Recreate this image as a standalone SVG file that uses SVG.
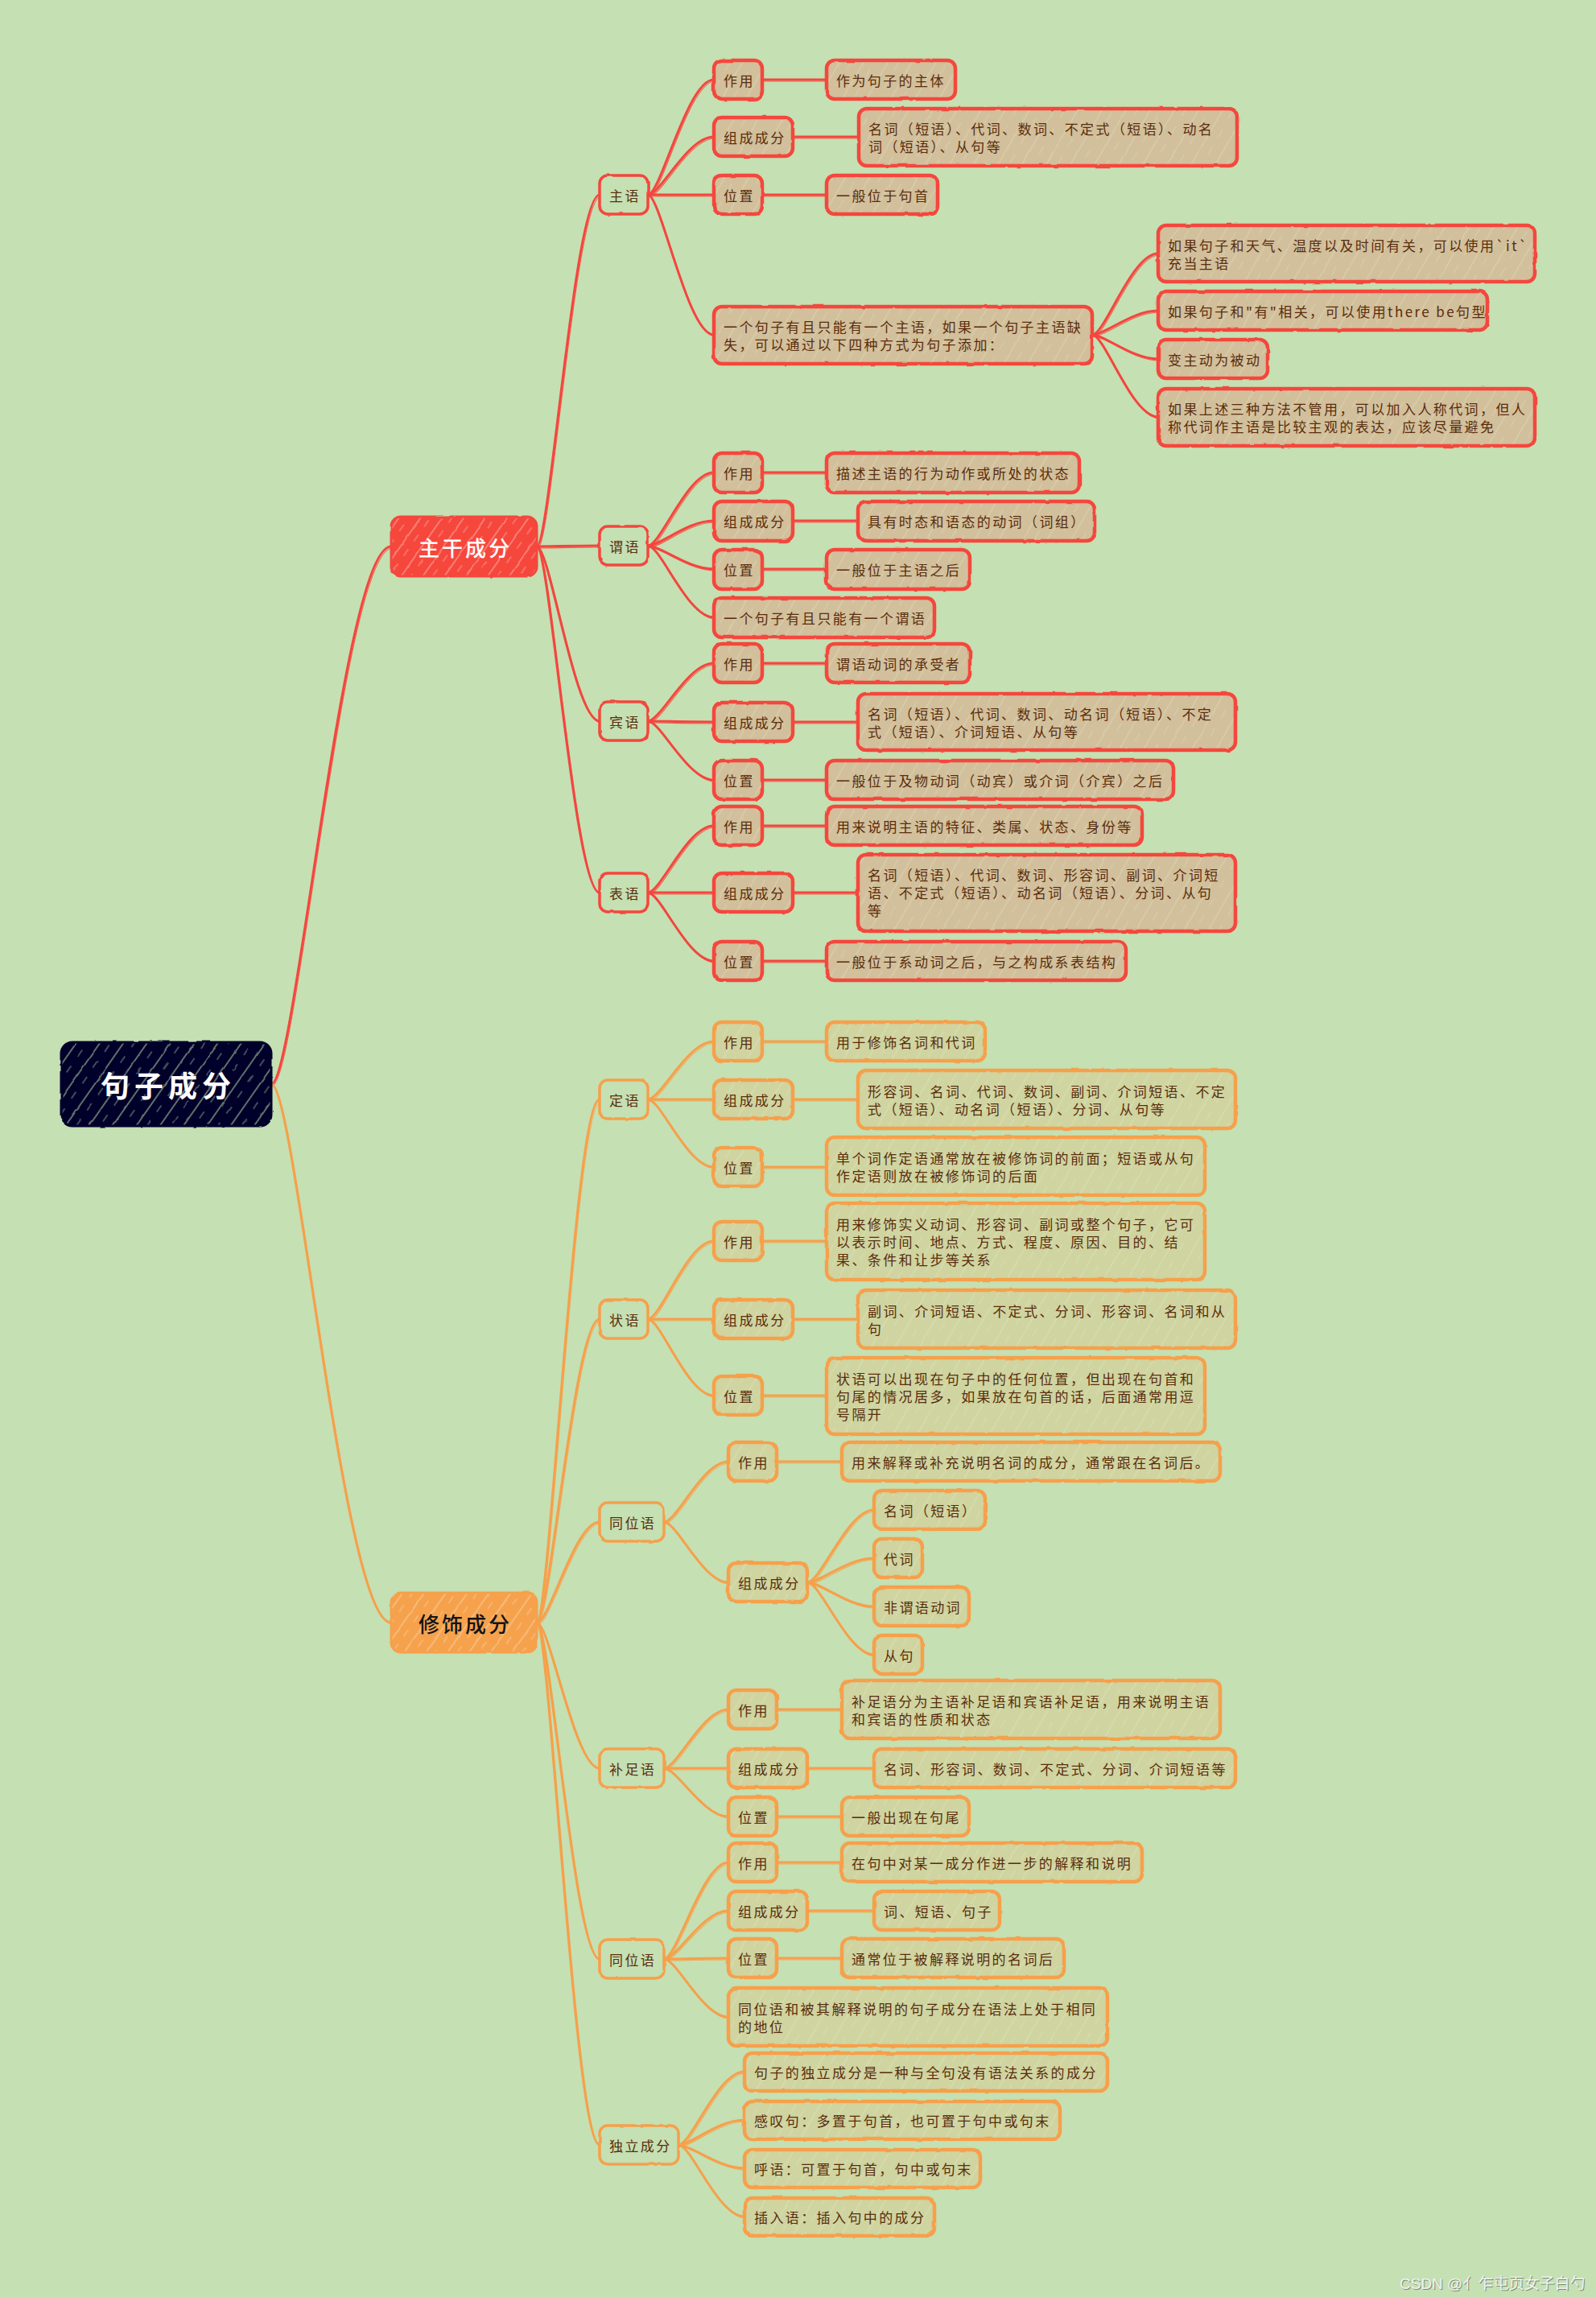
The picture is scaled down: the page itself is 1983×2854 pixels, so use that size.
<svg xmlns="http://www.w3.org/2000/svg" xmlns:xlink="http://www.w3.org/1999/xlink" width="1983" height="2854" viewBox="0 0 1983 2854">
<defs>
<style>
.t{font-family:"Noto Sans CJK SC","Noto Sans",sans-serif;font-size:17px;letter-spacing:2.4px;fill:#5a2d0c;dominant-baseline:central}
.b2r{fill:#c5e0b3;stroke:#f4463e;stroke-width:3.5;filter:url(#rough)}
.b3r{fill:url(#hTan);stroke:#f4463e;stroke-width:4.5;filter:url(#rough)}
.b2o{fill:#c5e0b3;stroke:#f6a04b;stroke-width:3.5;filter:url(#rough)}
.b3o{fill:url(#hYel);stroke:#f6a04b;stroke-width:4.5;filter:url(#rough)}
.main{font-family:"Noto Sans CJK SC","Noto Sans",sans-serif;font-size:26px;letter-spacing:3px;dominant-baseline:central;text-anchor:middle;font-weight:500}
.wm{font-family:"Liberation Sans","Noto Sans CJK SC",sans-serif;font-size:19px}
</style>
<filter id="rough" x="-20%" y="-30%" width="140%" height="160%">
<feTurbulence type="fractalNoise" baseFrequency="0.06" numOctaves="2" seed="4"/>
<feDisplacementMap in="SourceGraphic" scale="2.5" xChannelSelector="R" yChannelSelector="G"/>
</filter>
<pattern id="hTan" width="26" height="26" patternUnits="userSpaceOnUse" patternTransform="rotate(30)">
<rect width="26" height="26" fill="#d2bf9b"/>
<line x1="6" y1="0" x2="6" y2="26" stroke="#e3e6c8" stroke-width="1" opacity="0.55"/>
<line x1="18" y1="3" x2="18" y2="15" stroke="#e3e6c8" stroke-width="1" opacity="0.45"/>
</pattern>
<pattern id="hYel" width="26" height="26" patternUnits="userSpaceOnUse" patternTransform="rotate(30)">
<rect width="26" height="26" fill="#cfd4a0"/>
<line x1="6" y1="0" x2="6" y2="26" stroke="#e2ecc8" stroke-width="1" opacity="0.55"/>
<line x1="18" y1="3" x2="18" y2="15" stroke="#e2ecc8" stroke-width="1" opacity="0.45"/>
</pattern>
<pattern id="hRed" width="22" height="22" patternUnits="userSpaceOnUse" patternTransform="rotate(35)">
<rect width="22" height="22" fill="#f6463d"/>
<line x1="5" y1="0" x2="5" y2="22" stroke="#fbb9ad" stroke-width="1.2" opacity="0.8"/>
<line x1="15" y1="4" x2="15" y2="14" stroke="#fbb9ad" stroke-width="1.2" opacity="0.6"/>
</pattern>
<pattern id="hOrg" width="22" height="22" patternUnits="userSpaceOnUse" patternTransform="rotate(35)">
<rect width="22" height="22" fill="#f6a24e"/>
<line x1="5" y1="0" x2="5" y2="22" stroke="#f9d3a5" stroke-width="1.2" opacity="0.8"/>
<line x1="15" y1="4" x2="15" y2="14" stroke="#f9d3a5" stroke-width="1.2" opacity="0.6"/>
</pattern>
<pattern id="hNavy" width="24" height="24" patternUnits="userSpaceOnUse" patternTransform="rotate(35)">
<rect width="24" height="24" fill="#00002a"/>
<line x1="5" y1="0" x2="5" y2="24" stroke="#b8d8a4" stroke-width="1.3" opacity="0.8"/>
<line x1="16" y1="2" x2="16" y2="12" stroke="#b8d8a4" stroke-width="1.2" opacity="0.6"/>
</pattern>
</defs>

<rect width="1983" height="2854" fill="#c5e0b3"/>

<g id="connectors" fill="none" stroke-linecap="round">
<g stroke="#f4463e" stroke-width="3">
<g id="conn-red">
<path d="M337 1347 C367 1347 426 679 486 679"/>
<path d="M667 679 C683 679 714 242 745 242"/>
<path d="M667 679 C683 679 714 678 745 678"/>
<path d="M667 679 C683 679 714 896 745 896"/>
<path d="M667 679 C683 679 714 1109 745 1109"/>
<path d="M805 242 C821 242 854 99 887 99"/>
<path d="M805 242 C821 242 854 170 887 170"/>
<path d="M805 242 C821 242 854 242 887 242"/>
<path d="M805 242 C821 242 854 416 887 416"/>
<path d="M1357 416 C1373 416 1406 315 1439 315"/>
<path d="M1357 416 C1373 416 1406 386 1439 386"/>
<path d="M1357 416 C1373 416 1406 446 1439 446"/>
<path d="M1357 416 C1373 416 1406 518 1439 518"/>
<path d="M805 678 C821 678 854 587 887 587"/>
<path d="M805 678 C821 678 854 647 887 647"/>
<path d="M805 678 C821 678 854 707 887 707"/>
<path d="M805 678 C821 678 854 767 887 767"/>
<path d="M805 896 C821 896 854 824 887 824"/>
<path d="M805 896 C821 896 854 897 887 897"/>
<path d="M805 896 C821 896 854 969 887 969"/>
<path d="M805 1109 C821 1109 854 1026 887 1026"/>
<path d="M805 1109 C821 1109 854 1109 887 1109"/>
<path d="M805 1109 C821 1109 854 1194 887 1194"/>
<path d="M947 99 L1027 99"/>
<path d="M985 170 L1067 170"/>
<path d="M947 242 L1027 242"/>
<path d="M947 587 L1027 587"/>
<path d="M985 647 L1066 647"/>
<path d="M947 707 L1027 707"/>
<path d="M947 824 L1027 824"/>
<path d="M985 897 L1066 897"/>
<path d="M947 969 L1027 969"/>
<path d="M947 1026 L1027 1026"/>
<path d="M985 1109 L1066 1109"/>
<path d="M947 1194 L1027 1194"/>
</g>
</g>
<use href="#conn-red" transform="translate(1.5,2)" stroke="#f4463e" stroke-width="1.2" opacity="0.8"/>
<g stroke="#f6a04b" stroke-width="3">
<g id="conn-org">
<path d="M337 1347 C367 1347 426 2016 486 2016"/>
<path d="M667 2016 C683 2016 714 1366 745 1366"/>
<path d="M667 2016 C683 2016 714 1639 745 1639"/>
<path d="M667 2016 C683 2016 714 1891 745 1891"/>
<path d="M667 2016 C683 2016 714 2197 745 2197"/>
<path d="M667 2016 C683 2016 714 2434 745 2434"/>
<path d="M667 2016 C683 2016 714 2665 745 2665"/>
<path d="M805 1366 C821 1366 854 1294 887 1294"/>
<path d="M805 1366 C821 1366 854 1366 887 1366"/>
<path d="M805 1366 C821 1366 854 1450 887 1450"/>
<path d="M805 1639 C821 1639 854 1542 887 1542"/>
<path d="M805 1639 C821 1639 854 1639 887 1639"/>
<path d="M805 1639 C821 1639 854 1734 887 1734"/>
<path d="M825 1891 C841 1891 873 1816 905 1816"/>
<path d="M825 1891 C841 1891 873 1966 905 1966"/>
<path d="M1003 1966 C1020 1966 1053 1876 1086 1876"/>
<path d="M1003 1966 C1020 1966 1053 1936 1086 1936"/>
<path d="M1003 1966 C1020 1966 1053 1996 1086 1996"/>
<path d="M1003 1966 C1020 1966 1053 2056 1086 2056"/>
<path d="M825 2197 C841 2197 873 2124 905 2124"/>
<path d="M825 2197 C841 2197 873 2197 905 2197"/>
<path d="M825 2197 C841 2197 873 2257 905 2257"/>
<path d="M825 2434 C841 2434 873 2314 905 2314"/>
<path d="M825 2434 C841 2434 873 2374 905 2374"/>
<path d="M825 2434 C841 2434 873 2433 905 2433"/>
<path d="M825 2434 C841 2434 873 2506 905 2506"/>
<path d="M843 2665 C859 2665 892 2574 925 2574"/>
<path d="M843 2665 C859 2665 892 2634 925 2634"/>
<path d="M843 2665 C859 2665 892 2694 925 2694"/>
<path d="M843 2665 C859 2665 892 2754 925 2754"/>
<path d="M947 1294 L1027 1294"/>
<path d="M985 1366 L1066 1366"/>
<path d="M947 1450 L1027 1450"/>
<path d="M947 1542 L1027 1542"/>
<path d="M985 1639 L1066 1639"/>
<path d="M947 1734 L1027 1734"/>
<path d="M965 1816 L1046 1816"/>
<path d="M965 2124 L1046 2124"/>
<path d="M1003 2197 L1086 2197"/>
<path d="M965 2257 L1046 2257"/>
<path d="M965 2314 L1046 2314"/>
<path d="M1003 2374 L1086 2374"/>
<path d="M965 2433 L1046 2433"/>
</g>
</g>
<use href="#conn-org" transform="translate(1.5,2)" stroke="#f6a04b" stroke-width="1.2" opacity="0.8"/>
</g>

<g id="root">
<rect x="76" y="1295" width="261" height="104" rx="14" fill="url(#hNavy)" stroke="#00002a" stroke-width="3" filter="url(#rough)"/>
<text x="209" y="1347" style="font-family:'Noto Sans CJK SC',sans-serif;font-size:36px;font-weight:700;letter-spacing:6px;fill:#ffffff;text-anchor:middle;dominant-baseline:central">句子成分</text>
</g>

<g id="n-zhugan">
<rect x="486" y="642" width="181" height="74" rx="12" fill="url(#hRed)" stroke="#f4463e" stroke-width="3" filter="url(#rough)"/>
<text class="main" x="578" y="679" fill="#ffffff">主干成分</text>
</g>
<g id="n-xiushi">
<rect x="486" y="1979" width="181" height="74" rx="12" fill="url(#hOrg)" stroke="#f6a04b" stroke-width="3" filter="url(#rough)"/>
<text class="main" x="578" y="2016" fill="#141414">修饰成分</text>
</g>

<!-- red level 2 -->
<g id="n-zhuyu"><rect class="b2r" x="745" y="218" width="60" height="48" rx="10"/><text class="t" x="757" y="242">主语</text></g>
<g id="n-weiyu"><rect class="b2r" x="745" y="654" width="60" height="48" rx="10"/><text class="t" x="757" y="678">谓语</text></g>
<g id="n-binyu"><rect class="b2r" x="745" y="872" width="60" height="48" rx="10"/><text class="t" x="757" y="896">宾语</text></g>
<g id="n-biaoyu"><rect class="b2r" x="745" y="1085" width="60" height="48" rx="10"/><text class="t" x="757" y="1109">表语</text></g>

<!-- 主语 children -->
<g id="n-zy-zuoyong"><rect class="b3r" x="887" y="75" width="60" height="48" rx="10"/><text class="t" x="899" y="99">作用</text></g>
<g id="n-zy-zuoyong-d"><rect class="b3r" x="1027" y="75" width="160" height="48" rx="10"/><text class="t" x="1039" y="99">作为句子的主体</text></g>
<g id="n-zy-zucheng"><rect class="b3r" x="887" y="146" width="98" height="48" rx="10"/><text class="t" x="899" y="170">组成成分</text></g>
<g id="n-zy-zucheng-d"><rect class="b3r" x="1067" y="135" width="470" height="71" rx="10"/><text class="t"><tspan x="1079" y="159">名词（短语）、代词、数词、不定式（短语）、动名</tspan><tspan x="1079" y="181">词（短语）、从句等</tspan></text></g>
<g id="n-zy-weizhi"><rect class="b3r" x="887" y="218" width="60" height="48" rx="10"/><text class="t" x="899" y="242">位置</text></g>
<g id="n-zy-weizhi-d"><rect class="b3r" x="1027" y="218" width="138" height="48" rx="10"/><text class="t" x="1039" y="242">一般位于句首</text></g>
<g id="n-zy-rule"><rect class="b3r" x="887" y="381" width="470" height="71" rx="10"/><text class="t"><tspan x="899" y="405">一个句子有且只能有一个主语，如果一个句子主语缺</tspan><tspan x="899" y="427">失，可以通过以下四种方式为句子添加：</tspan></text></g>
<g id="n-zy-r1"><rect class="b3r" x="1439" y="280" width="468" height="70" rx="10"/><text class="t"><tspan x="1451" y="304">如果句子和天气、温度以及时间有关，可以使用`it`</tspan><tspan x="1451" y="326">充当主语</tspan></text></g>
<g id="n-zy-r2"><rect class="b3r" x="1439" y="362" width="409" height="48" rx="10"/><text class="t" x="1451" y="386">如果句子和"有"相关，可以使用there be句型</text></g>
<g id="n-zy-r3"><rect class="b3r" x="1439" y="422" width="136" height="48" rx="10"/><text class="t" x="1451" y="446">变主动为被动</text></g>
<g id="n-zy-r4"><rect class="b3r" x="1439" y="483" width="468" height="71" rx="10"/><text class="t"><tspan x="1451" y="507">如果上述三种方法不管用，可以加入人称代词，但人</tspan><tspan x="1451" y="529">称代词作主语是比较主观的表达，应该尽量避免</tspan></text></g>

<!-- 谓语 children -->
<g id="n-wy-zuoyong"><rect class="b3r" x="887" y="563" width="60" height="49" rx="10"/><text class="t" x="899" y="587">作用</text></g>
<g id="n-wy-zuoyong-d"><rect class="b3r" x="1027" y="563" width="314" height="49" rx="10"/><text class="t" x="1039" y="587">描述主语的行为动作或所处的状态</text></g>
<g id="n-wy-zucheng"><rect class="b3r" x="887" y="623" width="98" height="49" rx="10"/><text class="t" x="899" y="647">组成成分</text></g>
<g id="n-wy-zucheng-d"><rect class="b3r" x="1066" y="623" width="294" height="49" rx="10"/><text class="t" x="1078" y="647">具有时态和语态的动词（词组）</text></g>
<g id="n-wy-weizhi"><rect class="b3r" x="887" y="683" width="60" height="49" rx="10"/><text class="t" x="899" y="707">位置</text></g>
<g id="n-wy-weizhi-d"><rect class="b3r" x="1027" y="683" width="178" height="49" rx="10"/><text class="t" x="1039" y="707">一般位于主语之后</text></g>
<g id="n-wy-rule"><rect class="b3r" x="887" y="743" width="274" height="49" rx="10"/><text class="t" x="899" y="767">一个句子有且只能有一个谓语</text></g>

<!-- 宾语 children -->
<g id="n-by-zuoyong"><rect class="b3r" x="887" y="800" width="60" height="48" rx="10"/><text class="t" x="899" y="824">作用</text></g>
<g id="n-by-zuoyong-d"><rect class="b3r" x="1027" y="800" width="178" height="48" rx="10"/><text class="t" x="1039" y="824">谓语动词的承受者</text></g>
<g id="n-by-zucheng"><rect class="b3r" x="887" y="873" width="98" height="48" rx="10"/><text class="t" x="899" y="897">组成成分</text></g>
<g id="n-by-zucheng-d"><rect class="b3r" x="1066" y="862" width="469" height="70" rx="10"/><text class="t"><tspan x="1078" y="886">名词（短语）、代词、数词、动名词（短语）、不定</tspan><tspan x="1078" y="908">式（短语）、介词短语、从句等</tspan></text></g>
<g id="n-by-weizhi"><rect class="b3r" x="887" y="945" width="60" height="48" rx="10"/><text class="t" x="899" y="969">位置</text></g>
<g id="n-by-weizhi-d"><rect class="b3r" x="1027" y="945" width="431" height="48" rx="10"/><text class="t" x="1039" y="969">一般位于及物动词（动宾）或介词（介宾）之后</text></g>

<!-- 表语 children -->
<g id="n-bi-zuoyong"><rect class="b3r" x="887" y="1002" width="60" height="48" rx="10"/><text class="t" x="899" y="1026">作用</text></g>
<g id="n-bi-zuoyong-d"><rect class="b3r" x="1027" y="1002" width="392" height="48" rx="10"/><text class="t" x="1039" y="1026">用来说明主语的特征、类属、状态、身份等</text></g>
<g id="n-bi-zucheng"><rect class="b3r" x="887" y="1085" width="98" height="48" rx="10"/><text class="t" x="899" y="1109">组成成分</text></g>
<g id="n-bi-zucheng-d"><rect class="b3r" x="1066" y="1062" width="469" height="95" rx="10"/><text class="t"><tspan x="1078" y="1086">名词（短语）、代词、数词、形容词、副词、介词短</tspan><tspan x="1078" y="1108">语、不定式（短语）、动名词（短语）、分词、从句</tspan><tspan x="1078" y="1130">等</tspan></text></g>
<g id="n-bi-weizhi"><rect class="b3r" x="887" y="1170" width="60" height="48" rx="10"/><text class="t" x="899" y="1194">位置</text></g>
<g id="n-bi-weizhi-d"><rect class="b3r" x="1027" y="1170" width="372" height="48" rx="10"/><text class="t" x="1039" y="1194">一般位于系动词之后，与之构成系表结构</text></g>

<!-- orange level 2 -->
<g id="n-dingyu"><rect class="b2o" x="745" y="1342" width="60" height="48" rx="10"/><text class="t" x="757" y="1366">定语</text></g>
<g id="n-zhuangyu"><rect class="b2o" x="745" y="1615" width="60" height="48" rx="10"/><text class="t" x="757" y="1639">状语</text></g>
<g id="n-tongweiyu1"><rect class="b2o" x="745" y="1867" width="80" height="48" rx="10"/><text class="t" x="757" y="1891">同位语</text></g>
<g id="n-buzuyu"><rect class="b2o" x="745" y="2173" width="80" height="48" rx="10"/><text class="t" x="757" y="2197">补足语</text></g>
<g id="n-tongweiyu2"><rect class="b2o" x="745" y="2410" width="80" height="48" rx="10"/><text class="t" x="757" y="2434">同位语</text></g>
<g id="n-duli"><rect class="b2o" x="745" y="2641" width="98" height="48" rx="10"/><text class="t" x="757" y="2665">独立成分</text></g>

<!-- 定语 children -->
<g id="n-dy-zuoyong"><rect class="b3o" x="887" y="1270" width="60" height="48" rx="10"/><text class="t" x="899" y="1294">作用</text></g>
<g id="n-dy-zuoyong-d"><rect class="b3o" x="1027" y="1270" width="197" height="48" rx="10"/><text class="t" x="1039" y="1294">用于修饰名词和代词</text></g>
<g id="n-dy-zucheng"><rect class="b3o" x="887" y="1342" width="98" height="48" rx="10"/><text class="t" x="899" y="1366">组成成分</text></g>
<g id="n-dy-zucheng-d"><rect class="b3o" x="1066" y="1330" width="469" height="72" rx="10"/><text class="t"><tspan x="1078" y="1355">形容词、名词、代词、数词、副词、介词短语、不定</tspan><tspan x="1078" y="1377">式（短语）、动名词（短语）、分词、从句等</tspan></text></g>
<g id="n-dy-weizhi"><rect class="b3o" x="887" y="1426" width="60" height="48" rx="10"/><text class="t" x="899" y="1450">位置</text></g>
<g id="n-dy-weizhi-d"><rect class="b3o" x="1027" y="1413" width="470" height="72" rx="10"/><text class="t"><tspan x="1039" y="1438">单个词作定语通常放在被修饰词的前面；短语或从句</tspan><tspan x="1039" y="1460">作定语则放在被修饰词的后面</tspan></text></g>

<!-- 状语 children -->
<g id="n-zhy-zuoyong"><rect class="b3o" x="887" y="1518" width="60" height="48" rx="10"/><text class="t" x="899" y="1542">作用</text></g>
<g id="n-zhy-zuoyong-d"><rect class="b3o" x="1027" y="1495" width="470" height="95" rx="10"/><text class="t"><tspan x="1039" y="1520">用来修饰实义动词、形容词、副词或整个句子，它可</tspan><tspan x="1039" y="1542">以表示时间、地点、方式、程度、原因、目的、结</tspan><tspan x="1039" y="1564">果、条件和让步等关系</tspan></text></g>
<g id="n-zhy-zucheng"><rect class="b3o" x="887" y="1615" width="98" height="48" rx="10"/><text class="t" x="899" y="1639">组成成分</text></g>
<g id="n-zhy-zucheng-d"><rect class="b3o" x="1066" y="1603" width="469" height="72" rx="10"/><text class="t"><tspan x="1078" y="1628">副词、介词短语、不定式、分词、形容词、名词和从</tspan><tspan x="1078" y="1650">句</tspan></text></g>
<g id="n-zhy-weizhi"><rect class="b3o" x="887" y="1710" width="60" height="48" rx="10"/><text class="t" x="899" y="1734">位置</text></g>
<g id="n-zhy-weizhi-d"><rect class="b3o" x="1027" y="1687" width="470" height="95" rx="10"/><text class="t"><tspan x="1039" y="1712">状语可以出现在句子中的任何位置，但出现在句首和</tspan><tspan x="1039" y="1734">句尾的情况居多，如果放在句首的话，后面通常用逗</tspan><tspan x="1039" y="1756">号隔开</tspan></text></g>

<!-- 同位语 1 children -->
<g id="n-tw1-zuoyong"><rect class="b3o" x="905" y="1792" width="60" height="48" rx="10"/><text class="t" x="917" y="1816">作用</text></g>
<g id="n-tw1-zuoyong-d"><rect class="b3o" x="1046" y="1792" width="470" height="48" rx="10"/><text class="t" x="1058" y="1816">用来解释或补充说明名词的成分，通常跟在名词后。</text></g>
<g id="n-tw1-zucheng"><rect class="b3o" x="905" y="1942" width="98" height="48" rx="10"/><text class="t" x="917" y="1966">组成成分</text></g>
<g id="n-tw1-c1"><rect class="b3o" x="1086" y="1852" width="138" height="48" rx="10"/><text class="t" x="1098" y="1876">名词（短语）</text></g>
<g id="n-tw1-c2"><rect class="b3o" x="1086" y="1912" width="60" height="48" rx="10"/><text class="t" x="1098" y="1936">代词</text></g>
<g id="n-tw1-c3"><rect class="b3o" x="1086" y="1972" width="118" height="48" rx="10"/><text class="t" x="1098" y="1996">非谓语动词</text></g>
<g id="n-tw1-c4"><rect class="b3o" x="1086" y="2032" width="60" height="48" rx="10"/><text class="t" x="1098" y="2056">从句</text></g>

<!-- 补足语 children -->
<g id="n-bz-zuoyong"><rect class="b3o" x="905" y="2100" width="60" height="48" rx="10"/><text class="t" x="917" y="2124">作用</text></g>
<g id="n-bz-zuoyong-d"><rect class="b3o" x="1046" y="2088" width="470" height="72" rx="10"/><text class="t"><tspan x="1058" y="2113">补足语分为主语补足语和宾语补足语，用来说明主语</tspan><tspan x="1058" y="2135">和宾语的性质和状态</tspan></text></g>
<g id="n-bz-zucheng"><rect class="b3o" x="905" y="2173" width="98" height="48" rx="10"/><text class="t" x="917" y="2197">组成成分</text></g>
<g id="n-bz-zucheng-d"><rect class="b3o" x="1086" y="2173" width="449" height="48" rx="10"/><text class="t" x="1098" y="2197">名词、形容词、数词、不定式、分词、介词短语等</text></g>
<g id="n-bz-weizhi"><rect class="b3o" x="905" y="2233" width="60" height="48" rx="10"/><text class="t" x="917" y="2257">位置</text></g>
<g id="n-bz-weizhi-d"><rect class="b3o" x="1046" y="2233" width="158" height="48" rx="10"/><text class="t" x="1058" y="2257">一般出现在句尾</text></g>

<!-- 同位语 2 children -->
<g id="n-tw2-zuoyong"><rect class="b3o" x="905" y="2290" width="60" height="48" rx="10"/><text class="t" x="917" y="2314">作用</text></g>
<g id="n-tw2-zuoyong-d"><rect class="b3o" x="1046" y="2290" width="373" height="48" rx="10"/><text class="t" x="1058" y="2314">在句中对某一成分作进一步的解释和说明</text></g>
<g id="n-tw2-zucheng"><rect class="b3o" x="905" y="2350" width="98" height="48" rx="10"/><text class="t" x="917" y="2374">组成成分</text></g>
<g id="n-tw2-zucheng-d"><rect class="b3o" x="1086" y="2350" width="156" height="48" rx="10"/><text class="t" x="1098" y="2374">词、短语、句子</text></g>
<g id="n-tw2-weizhi"><rect class="b3o" x="905" y="2409" width="60" height="48" rx="10"/><text class="t" x="917" y="2433">位置</text></g>
<g id="n-tw2-weizhi-d"><rect class="b3o" x="1046" y="2409" width="276" height="48" rx="10"/><text class="t" x="1058" y="2433">通常位于被解释说明的名词后</text></g>
<g id="n-tw2-rule"><rect class="b3o" x="905" y="2470" width="471" height="72" rx="10"/><text class="t"><tspan x="917" y="2495">同位语和被其解释说明的句子成分在语法上处于相同</tspan><tspan x="917" y="2517">的地位</tspan></text></g>

<!-- 独立成分 children -->
<g id="n-dl-1"><rect class="b3o" x="925" y="2551" width="451" height="47" rx="10"/><text class="t" x="937" y="2574">句子的独立成分是一种与全句没有语法关系的成分</text></g>
<g id="n-dl-2"><rect class="b3o" x="925" y="2611" width="392" height="47" rx="10"/><text class="t" x="937" y="2634">感叹句：多置于句首，也可置于句中或句末</text></g>
<g id="n-dl-3"><rect class="b3o" x="925" y="2671" width="293" height="47" rx="10"/><text class="t" x="937" y="2694">呼语：可置于句首，句中或句末</text></g>
<g id="n-dl-4"><rect class="b3o" x="925" y="2731" width="236" height="47" rx="10"/><text class="t" x="937" y="2754">插入语：插入句中的成分</text></g>

<g id="watermark">
<text class="wm" x="1740" y="2845" fill="#7a8a70">CSDN @亻乍屯页女子白勺</text>
<text class="wm" x="1739" y="2844" fill="#f2f2f2">CSDN @亻乍屯页女子白勺</text>
</g>
</svg>
